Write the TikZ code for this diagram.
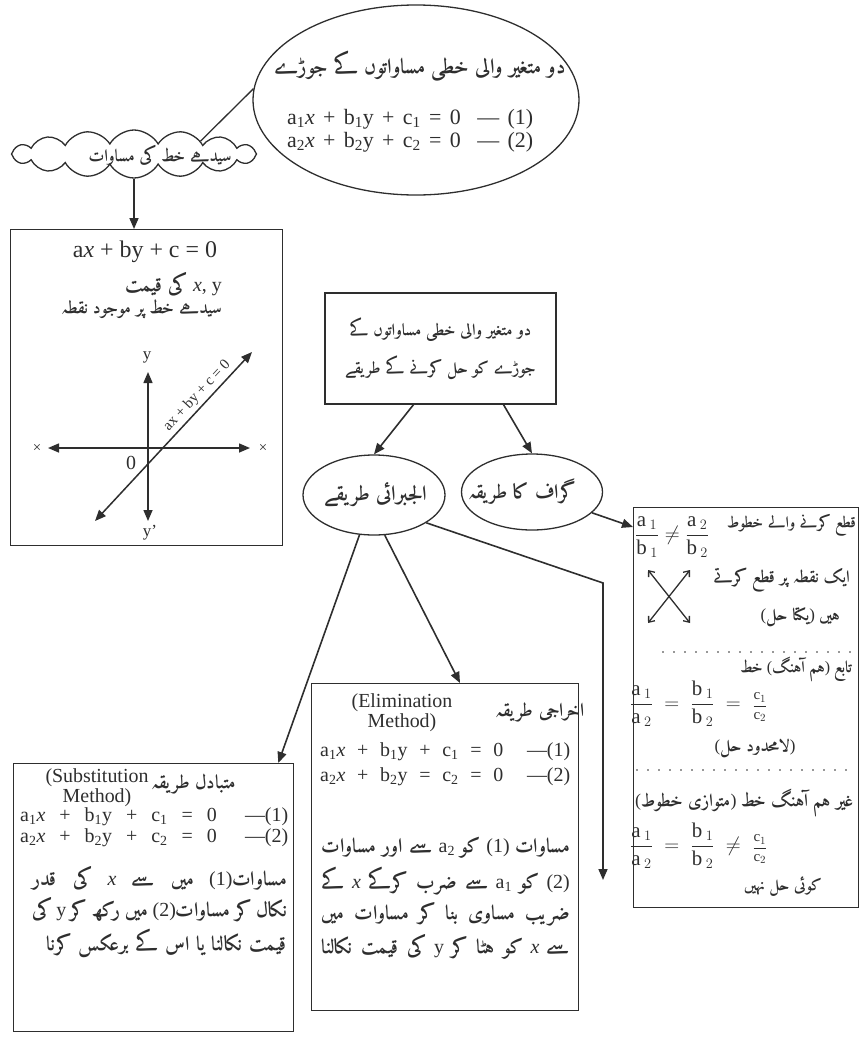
\documentclass[tikz,border=0pt]{standalone}
\usepackage{amsmath}
\usepackage{fontspec}
\setmainfont{Liberation Serif}
\IfFontExistsTF{Amiri-Bold.ttf}
  {\newfontfamily\urdu[Script=Arabic]{Amiri-Bold.ttf}}
  {\newfontfamily\urdu[Script=Arabic]{DejaVu Sans}}
\TeXXeTstate=1
\usetikzlibrary{arrows.meta,positioning,shapes.geometric,shapes.symbols}
\definecolor{ink}{HTML}{2E2E2E}
\newcommand{\ur}[1]{{\urdu\beginR#1\endR}}
\newcommand{\sbs}[1]{\textsubscript{#1}}
\newcommand{\vx}{\textit{x}}
\newcommand{\fr}[4]{\dfrac{\mathrm{#1}\,{}_{#2}}{\mathrm{#3}\,{}_{#4}}}
\newcommand{\cf}[2]{\text{\fontsize{15}{15}\selectfont$\dfrac{\mathrm{c}_{#1}}{\mathrm{c}_{#2}}$}}
\newcommand{\req}{\mathrel{\;=\;}}
\newcommand{\rne}{\mathrel{\;\neq\;}}

\begin{document}
\begin{tikzpicture}[
  x=1bp, y=-1bp,
  frame/.style={draw=ink, line width=1.3bp},
  panel/.style={frame, rectangle, inner sep=0pt, anchor=north west},
  oval/.style={frame, ellipse, inner sep=0pt},
  arr/.style={-{Triangle[length=11bp, width=9bp]}, line width=1.6bp, draw=ink},
  dbl/.style={{Triangle[length=11bp, width=9bp]}-{Triangle[length=11bp, width=9bp]}, line width=1.5bp, draw=ink},
  barbs/.style={{Straight Barb[length=5bp, width=8bp]}-{Straight Barb[length=5bp, width=8bp]}, line width=1.3bp, draw=ink},
  dots/.style={draw=ink, line width=1.6bp, line cap=round, dash pattern=on 0bp off 11bp},
  eqt/.style={inner sep=0pt, text=ink, font=\fontsize{20}{21}\selectfont},
  ut/.style={inner sep=0pt, text=ink, font=\fontsize{20}{22}\selectfont},
  rt/.style={ut, font=\fontsize{17}{20}\selectfont},
  lbl/.style={inner sep=0pt, text=ink, font=\fontsize{17}{17}\selectfont}
]
\useasboundingbox (0,0) rectangle (862,1037);

% pairs of equations
\node[oval, minimum width=326bp, minimum height=190bp] (pairs) at (416,100) {};
\node[ut, font=\fontsize{21}{22}\selectfont] (pairstitle) at (420,66) {\ur{دو متغیر والی خطی مساواتوں کے جوڑے}};
\node[eqt, anchor=west, align=left, font=\fontsize{22}{23}\selectfont] (pairseq) at (287,131)
  {\makebox[246bp][s]{a\sbs{1}\vx{} + b\sbs{1}y + c\sbs{1} = 0\ \ — (1)}\\
   \makebox[246bp][s]{a\sbs{2}\vx{} + b\sbs{2}y + c\sbs{2} = 0\ \ — (2)}};

% straight line equation
\node[cloud, frame, cloud puffs=16, cloud puff arc=120, aspect=5.1, minimum width=245bp,
      minimum height=48bp] (linecloud) at (134,154) {};
\node[ut, font=\fontsize{17}{20}\selectfont] (cloudtxt) at (160,155) {\ur{سیدھے خط کی مساوات}};
\draw[frame] (pairs.176) -- (linecloud.11);

\node[panel, minimum width=272bp, minimum height=316bp] (linebox) at (10,229) {};
\draw[arr] (linecloud.south) -- (linecloud.south |- linebox.north);
\node[eqt, font=\fontsize{24}{24}\selectfont] (lineeq) at (145,252) {a\vx{} + by + c = 0};
\node[ut, anchor=east] (valxy) at (222,284) {\ur{کی قیمت} \textit{x}, y};
\node[ut, anchor=east, font=\fontsize{17.5}{20}\selectfont] (online) at (222,309) {\ur{سیدھے خط پر موجود نقطہ}};

\coordinate (ytip) at (148,372);
\coordinate (ybot) at (148,521);
\coordinate (xlt) at (48,448);
\coordinate (xrt) at (250,448);
\coordinate (dlo) at (95,521);
\coordinate (dhi) at (252,352);
\draw[dbl] (ybot) -- (ytip);
\draw[dbl] (xlt) -- (xrt);
\draw[dbl] (dlo) -- (dhi)
  node[pos=0.7, above=3bp, sloped, inner sep=0pt, text=ink, font=\fontsize{15}{15}\selectfont] (diaglab) {ax + by + c = 0};
\node[lbl] (ylab) at (147,357) {y};
\node[lbl] (yplab) at (150,533) {y'};
\node[lbl, font=\fontsize{15}{15}\selectfont] (xlcross) at (37,448) {×};
\node[lbl, font=\fontsize{15}{15}\selectfont] (xrcross) at (263,448) {×};
\node[lbl, font=\fontsize{20}{20}\selectfont] (zero) at (131,463) {0};

% methods
\node[frame, rectangle, minimum width=231bp, minimum height=111bp, align=center,
      ut, font=\fontsize{16.5}{38}\selectfont] (methods) at (440.5,348.5)
  {\ur{دو متغیر والی خطی مساواتوں کے}\\\ur{جوڑے کو حل کرنے کے طریقے}};
\node[oval, minimum width=142bp, minimum height=80bp] (alg) at (374,495) {};
\node[ut, font=\fontsize{21}{22}\selectfont] (algtxt) at (376,495) {\ur{الجبرائی طریقے}};
\node[oval, minimum width=141bp, minimum height=76bp] (graph) at (532,492) {};
\node[ut, font=\fontsize{20}{22}\selectfont] (graphtxt) at (522,492) {\ur{گراف کا طریقہ}};
\draw[arr] ([xshift=-27bp]methods.south) -- (alg.north);
\draw[arr] ([xshift=63bp]methods.south) -- (graph.north);

% graphical method
\node[panel, minimum width=225bp, minimum height=400bp] (graphbox) at (633,507) {};
\coordinate (gin) at (633,527);
\draw[arr] (graph) -- (gin);
\node[eqt, anchor=west, font=\fontsize{21}{21}\selectfont] (frac1) at (635,537) {$\fr{a}{1}{b}{1}\neq\fr{a}{2}{b}{2}$};
\node[rt, anchor=east, font=\fontsize{15.5}{20}\selectfont] (cuttxt) at (856,525) {\ur{قطع کرنے والے خطوط}};
\coordinate (xa1) at (648,623);
\coordinate (xa2) at (690,570);
\coordinate (xb1) at (648,570);
\coordinate (xb2) at (690,623);
\draw[barbs] (xa1) -- (xa2);
\draw[barbs] (xb1) -- (xb2);
\node[rt, anchor=east] (meet1) at (850,580) {\ur{ایک نقطہ پر قطع کرتے}};
\node[rt, anchor=east] (meet2) at (840,617) {(\ur{یکتا حل}) \ur{ہیں}};
\coordinate (dotA1) at (663,652);
\coordinate (dotA2) at (856,652);
\draw[dots] (dotA1) -- (dotA2);
\node[rt, anchor=east, font=\fontsize{16}{20}\selectfont] (dep) at (852,669) {\ur{خط} (\ur{ہم آہنگ}) \ur{تابع}};
\node[eqt, anchor=west, font=\fontsize{21}{21}\selectfont] (frac2) at (630,704) {$\fr{a}{1}{a}{2}\req\fr{b}{1}{b}{2}\req\cf{1}{2}$};
\node[rt] (infsol) at (755,748) {(\ur{لامحدود حل})};
\coordinate (dotB1) at (637,770);
\coordinate (dotB2) at (856,770);
\draw[dots] (dotB1) -- (dotB2);
\node[rt, anchor=west, font=\fontsize{18}{20}\selectfont] (parl) at (635,803) {(\ur{متوازی خطوط}) \ur{غیر ہم آہنگ خط}};
\node[eqt, anchor=west, font=\fontsize{21}{21}\selectfont] (frac3) at (630,846) {$\fr{a}{1}{a}{2}\req\fr{b}{1}{b}{2}\rne\cf{1}{2}$};
\node[rt, font=\fontsize{16}{20}\selectfont] (nosol) at (783,887) {\ur{کوئی حل نہیں}};

% elimination
\node[panel, minimum width=267bp, minimum height=327bp] (elimbox) at (311,683) {};
\node[eqt, align=center, font=\fontsize{20}{20}\selectfont] (elimhead) at (402,713) {(Elimination\\Method)};
\node[ut, font=\fontsize{19}{22}\selectfont] (elimname) at (540,712) {\ur{اخراجی طریقہ}};
\node[eqt, anchor=west, align=left, font=\fontsize{20}{25}\selectfont] (elimeq) at (320,764)
  {\makebox[250bp][s]{a\sbs{1}\vx{} + b\sbs{1}y + c\sbs{1} = 0\ \ —(1)}\\
   \makebox[250bp][s]{a\sbs{2}\vx{} + b\sbs{2}y = c\sbs{2} = 0\ \ —(2)}};
\node[ut, anchor=east] (elim1) at (570,848) {\makebox[248bp][s]{\ur{سے اور مساوات} a\sbs{2} \ur{کو} (1) \ur{مساوات}}};
\node[ut, anchor=east] (elim2) at (570,881) {\makebox[248bp][s]{\ur{کے} \vx{} \ur{سے ضرب کرکے} a\sbs{1} \ur{کو} (2)}};
\node[ut, anchor=east] (elim3) at (570,914) {\makebox[248bp][s]{\ur{ضریب مساوی بنا کر مساوات میں}}};
\node[ut, anchor=east] (elim4) at (570,947) {\makebox[248bp][s]{\ur{کی قیمت نکالنا} y \ur{کو ہٹا کر} \vx{} \ur{سے}}};

% substitution
\node[panel, minimum width=280bp, minimum height=268bp] (substbox) at (13,763) {};
\node[eqt, align=center, font=\fontsize{20}{20}\selectfont] (substhead) at (97,788) {(Substitution\\Method)};
\node[ut, font=\fontsize{19}{22}\selectfont] (substname) at (194,784) {\ur{متبادل طریقہ}};
\node[eqt, anchor=west, align=left, font=\fontsize{20}{21}\selectfont] (substeq) at (20,827)
  {\makebox[268bp][s]{a\sbs{1}\vx{} + b\sbs{1}y + c\sbs{1} = 0\ \ —(1)}\\
   \makebox[268bp][s]{a\sbs{2}\vx{} + b\sbs{2}y + c\sbs{2} = 0\ \ —(2)}};
\node[ut, anchor=east] (subst1) at (287,878) {\makebox[254bp][s]{\ur{کی قدر} \vx{} \ur{میں سے} (1)\ur{مساوات}}};
\node[ut, anchor=east] (subst2) at (287,910) {\makebox[254bp][s]{\ur{کی} y \ur{میں رکھ کر} (2)\ur{نکال کر مساوات}}};
\node[ut, anchor=east] (subst3) at (287,943) {\makebox[240bp][s]{\ur{قیمت نکالنا یا اس کے برعکس کرنا}}};

% algebraic branches
\coordinate (bend) at (603,583);
\coordinate (drop) at (603,880);
\draw[arr] (alg.250) -- ([xshift=-16bp]substbox.north east);
\draw[arr] (alg.285) -- ([xshift=149bp]elimbox.north west);
\draw[arr] (alg.-28) -- (bend) -- (drop);
\end{tikzpicture}
\end{document}
